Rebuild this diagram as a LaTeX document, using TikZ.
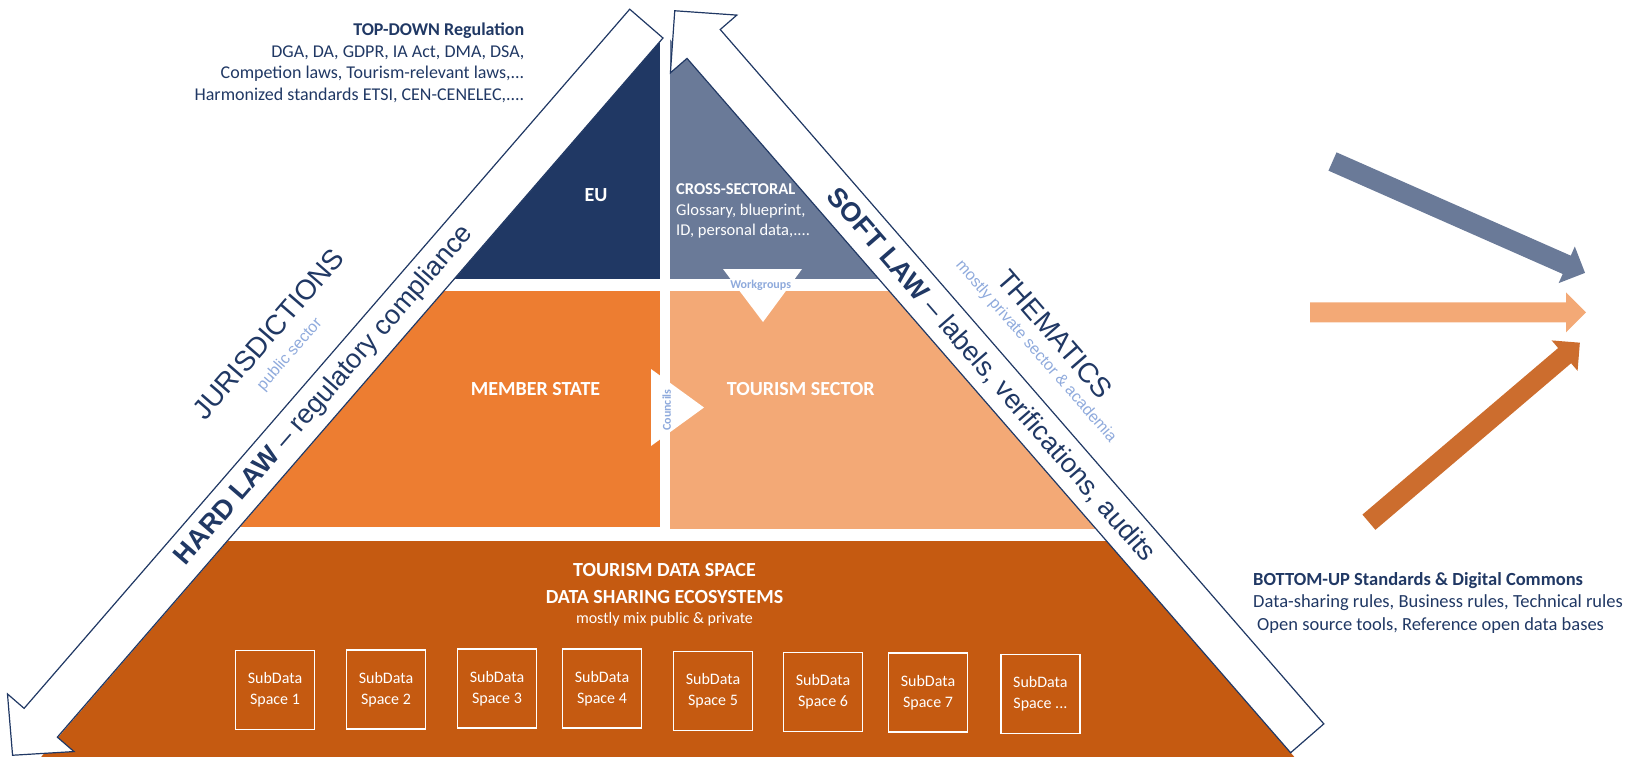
\documentclass[tikz,border=0pt]{standalone}
\usepackage{fontspec}
\setmainfont{Carlito}
\newfontfamily\arialfont{Liberation Sans}
\definecolor{navy}{HTML}{203864}
\definecolor{slate}{HTML}{6A7A98}
\definecolor{msorange}{HTML}{ED7D31}
\definecolor{peach}{HTML}{F3A976}
\definecolor{rust}{HTML}{C55A11}
\definecolor{rustarrow}{HTML}{CC6D2E}
\definecolor{skyblue}{HTML}{8FAADC}

\newcommand{\fs}[2]{\fontsize{#1}{#2}\selectfont}

% block arrow: fill colour, tail point, direction (deg), length
\newcommand{\blockarrow}[4]{%
  \begin{scope}[shift={#2}, rotate=#3]
    \fill[#1] (0,-10) -- ({#4-20},-10) -- ({#4-20},-20) -- (#4,0)
      -- ({#4-20},20) -- ({#4-20},10) -- (0,10) -- cycle;
  \end{scope}}

\tikzset{
  tier/.style={text=white, font=\bfseries\fs{20}{24}, inner sep=0pt},
  tiernote/.style={text=white, font=\fs{16.5}{20}, inner sep=0pt, anchor=base west},
  band/.style={fill=white, draw=navy, line width=1.2pt, line join=miter},
  bandlabel/.style={text=navy, font=\arialfont\fs{27}{30}, inner sep=0pt},
  realm/.style={text=navy, font=\arialfont\fs{28}{32}, inner sep=0pt},
  sector/.style={text=skyblue, font=\arialfont\fs{16}{19}, inner sep=0pt},
  infotext/.style={text=navy, font=\fs{18}{21.5}, inner sep=0pt},
  subspace/.style={draw=white, line width=1.5pt, minimum width=79pt, minimum height=79pt,
    align=center, text=white, font=\fs{16}{21}, inner sep=0pt},
  channel/.style={text=skyblue, font=\bfseries\fs{12}{14}, inner sep=0pt},
}

\begin{document}
\begin{tikzpicture}[x=1pt,y=-1pt]
\useasboundingbox (0,0) rectangle (1629,756);

% pyramid tiers, clipped to the triangle between the two law bands
\begin{scope}
  \clip (666,34.7) -- (38.5,760) -- (1297,760) -- cycle;
  \fill[navy] (0,0) rectangle (660,279);
  \fill[slate] (670,0) rectangle (1629,279);
  \fill[msorange] (0,291) rectangle (660,527);
  \fill[peach] (670,291) rectangle (1629,529);
  \fill[rust] (0,541) rectangle (1629,760);
\end{scope}

% exchange channels between the tiers
\fill[white] (723,269) -- (802,269) -- (763,322) -- cycle;
\node[channel] (wg) at (760.7,285) {Workgroups};
\fill[white] (651,369) -- (651,446) -- (704,407.5) -- cycle;
\node[channel, rotate=90] (cc) at (666.7,410) {Councils};

% tier labels
\node[tier] (eu) at (596,195) {EU};
\node[tier, font=\bfseries\fs{16.5}{20}, anchor=base west] (cs) at (676,194.5) {CROSS-SECTORAL};
\node[tiernote] (cs1) at (676,215) {Glossary, blueprint,};
\node[tiernote] (cs2) at (676,235.5) {ID, personal data,....};
\node[tier] (ms) at (535.5,389) {MEMBER STATE};
\node[tier] (ts) at (800.8,389) {TOURISM SECTOR};
\node[tier, anchor=base] (tds) at (664.5,576.5) {TOURISM DATA SPACE};
\node[tier, anchor=base] (dse) at (664.5,603) {DATA SHARING ECOSYSTEMS};
\node[tier, font=\fs{16}{19}, anchor=base] (mix) at (664.5,623.5) {mostly mix public \& private};

% sub data spaces
\node[subspace] (sd1) at (275,690) {SubData\\Space 1};
\node[subspace] (sd2) at (386,689.5) {SubData\\Space 2};
\node[subspace] (sd3) at (497,688.5) {SubData\\Space 3};
\node[subspace] (sd4) at (602,688.5) {SubData\\Space 4};
\node[subspace] (sd5) at (713,691) {SubData\\Space 5};
\node[subspace] (sd6) at (823,692) {SubData\\Space 6};
\node[subspace] (sd7) at (928,692.5) {SubData\\Space 7};
\node[subspace] (sd8) at (1040.4,694) {SubData\\Space ...};

% hard law band (points down-left)
\coordinate (hardTail) at (646.35,23.6);
\begin{scope}[shift={(hardTail)}, rotate=-130.9]
  \draw[band] (0,-22) -- (925,-22) -- (925,-44) -- (968,0) -- (925,44)
    -- (925,22) -- (0,22) -- cycle;
\end{scope}

% soft law band (points up-left)
\coordinate (softTail) at (1307.2,738.3);
\begin{scope}[shift={(softTail)}, rotate=131]
  \draw[band] (0,-22) -- (920,-22) -- (920,-44) -- (964,0) -- (920,44)
    -- (920,22) -- (0,22) -- cycle;
\end{scope}

% band texts
\node[bandlabel, rotate=49.1] (hard) at (324.6,395.6) {{\bfseries HARD LAW} – regulatory compliance};
\node[bandlabel, rotate=-49] (soft) at (991,375) {{\bfseries SOFT LAW} – labels, verifications, audits};

\node[realm, rotate=49.1] (jur) at (268.3,333.9) {JURISDICTIONS};
\node[sector, rotate=49.1] (pub) at (290,354.5) {public sector};
\node[realm, rotate=-49] (them) at (1055,334) {THEMATICS};
\node[sector, rotate=-49] (priv) at (1035.8,351.7) {mostly private sector \& academia};

% top-down regulation
\node[infotext, anchor=base east, font=\bfseries\fs{18}{21.5}] (td) at (524.5,35) {TOP-DOWN Regulation};
\node[infotext, anchor=base east] (td1) at (524.5,57) {DGA, DA, GDPR, IA Act, DMA, DSA,};
\node[infotext, anchor=base east] (td2) at (524.5,78.5) {Competion laws, Tourism-relevant laws,...};
\node[infotext, anchor=base east] (td3) at (524.5,100) {Harmonized standards ETSI, CEN-CENELEC,....};

% bottom-up standards
\node[infotext, anchor=base west, font=\bfseries\fs{18.5}{22}] (bu) at (1253,585) {BOTTOM-UP Standards \& Digital Commons};
\node[infotext, anchor=base west, font=\fs{18.5}{22}] (bu1) at (1253,607.5) {Data-sharing rules, Business rules, Technical rules};
\node[infotext, anchor=base west, font=\fs{18.5}{22}] (bu2) at (1257,630) {Open source tools, Reference open data bases};

% converging arrows
\coordinate (upperTail) at (1332.5,161.5);
\coordinate (middleTail) at (1310,312.3);
\coordinate (lowerTail) at (1368.9,522.2);
\blockarrow{slate}{(upperTail)}{-23.8}{276}
\blockarrow{peach}{(middleTail)}{0}{276}
\blockarrow{rustarrow}{(lowerTail)}{40.4}{277}

\end{tikzpicture}
\end{document}
